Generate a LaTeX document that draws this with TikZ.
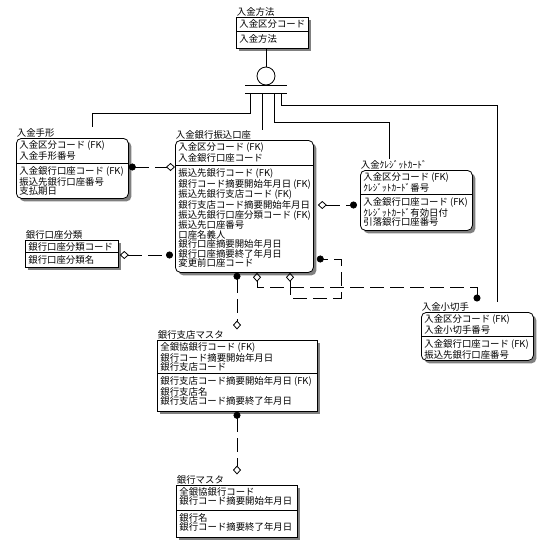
\documentclass[tikz,border=0pt]{standalone}
\usepackage{fontspec}
\setmainfont{Noto Sans CJK JP}
\usepackage{tikz}
\usetikzlibrary{positioning,calc,shadows,arrows.meta}
\tikzset{
	fkdot/.tip={Circle[length=7pt]},
	pkdia/.tip={Diamond[open,length=9pt,width=8pt]}
}

\begin{document}
\begin{tikzpicture}[
		x=1pt, y=-1pt, line width=0.8pt,
		ent/.style={draw, fill=white, inner sep=0pt, anchor=north west,
			drop shadow={shadow xshift=3pt, shadow yshift=-3pt, fill=black!50, opacity=1}},
		rent/.style={ent, rounded corners=5pt},
		lbl/.style={anchor=south west, inner sep=0.5pt, font=\fontsize{9.4}{9.5}\selectfont},
		txt/.style={anchor=north west, inner sep=0pt, align=left, font=\fontsize{9.4}{9.5}\selectfont},
		rel/.style={draw, dash pattern=on 14pt off 6pt},
		sub/.style={draw, line width=1pt}
		]
		
		\fill[white] (0,0) rectangle (550,550);
		\useasboundingbox (0,0) rectangle (550,550);
		
		% ===== 入金方法 =====
		\node[ent, minimum width=72, minimum height=31] (hoho) at (236,17) {};
		\node[lbl] (hohoL) at (hoho.north west) {入金方法};
		\draw (hoho.west |- 0,31) -- (hoho.east |- 0,31);
		\node[txt] (hohoK) at ($(hoho.north west)+(3,2)$) {入金区分コード};
		\node[txt] (hohoA) at ($(hoho.west |- 0,31)+(3,3)$) {入金方法};
		
		% ===== 入金手形 =====
		\node[rent, minimum width=112, minimum height=60] (tegata) at (16,138) {};
		\node[lbl] (tegataL) at (tegata.north west) {入金手形};
		\draw (tegata.west |- 0,163) -- (tegata.east |- 0,163);
		\node[txt] (tegataK) at ($(tegata.north west)+(3,2)$) {入金区分コード (FK)\\入金手形番号};
		\node[txt] (tegataA) at ($(tegata.west |- 0,163)+(3,3)$) {入金銀行口座コード (FK)\\振込先銀行口座番号\\支払期日};
		
		% ===== 入金銀行振込口座 =====
		\node[rent, minimum width=138, minimum height=132] (furi) at (175,140) {};
		\node[lbl] (furiL) at (furi.north west) {入金銀行振込口座};
		\draw (furi.west |- 0,165) -- (furi.east |- 0,165);
		\node[txt] (furiK) at ($(furi.north west)+(3,2)$) {入金区分コード (FK)\\入金銀行口座コード};
		\node[txt] (furiA) at ($(furi.west |- 0,165)+(3,3)$) {振込先銀行コード (FK)\\銀行コード摘要開始年月日 (FK)\\振込先銀行支店コード (FK)\\銀行支店コード摘要開始年月日\\振込先銀行口座分類コード (FK)\\振込先口座番号\\口座名義人\\銀行口座摘要開始年月日\\銀行口座摘要終了年月日\\変更前口座コード};
		
		% ===== 入金ｸﾚｼﾞｯﾄｶｰﾄﾞ =====
		\node[rent, minimum width=112, minimum height=60] (credit) at (360,170) {};
		\node[lbl] (creditL) at (credit.north west) {入金ｸﾚｼﾞｯﾄｶｰﾄﾞ};
		\draw (credit.west |- 0,194) -- (credit.east |- 0,194);
		\node[txt] (creditK) at ($(credit.north west)+(3,2)$) {入金区分コード (FK)\\ｸﾚｼﾞｯﾄｶｰﾄﾞ番号};
		\node[txt] (creditA) at ($(credit.west |- 0,194)+(3,3)$) {入金銀行口座コード (FK)\\ｸﾚｼﾞｯﾄｶｰﾄﾞ有効日付\\引落銀行口座番号};
		
		% ===== 銀行口座分類 =====
		\node[ent, minimum width=93, minimum height=27] (bunrui) at (25,240) {};
		\node[lbl] (bunruiL) at (bunrui.north west) {銀行口座分類};
		\draw (bunrui.west |- 0,252) -- (bunrui.east |- 0,252);
		\node[txt] (bunruiK) at ($(bunrui.north west)+(3,2)$) {銀行口座分類コード};
		\node[txt] (bunruiA) at ($(bunrui.west |- 0,252)+(3,3)$) {銀行口座分類名};
		
		% ===== 入金小切手 =====
		\node[rent, minimum width=112, minimum height=48] (kogitte) at (421,312) {};
		\node[lbl] (kogitteL) at (kogitte.north west) {入金小切手};
		\draw (kogitte.west |- 0,336) -- (kogitte.east |- 0,336);
		\node[txt] (kogitteK) at ($(kogitte.north west)+(3,2)$) {入金区分コード (FK)\\入金小切手番号};
		\node[txt] (kogitteA) at ($(kogitte.west |- 0,336)+(3,3)$) {入金銀行口座コード (FK)\\振込先銀行口座番号};
		
		% ===== 銀行支店マスタ =====
		\node[ent, minimum width=160, minimum height=71] (shiten) at (157,340) {};
		\node[lbl] (shitenL) at (shiten.north west) {銀行支店マスタ};
		\draw (shiten.west |- 0,373) -- (shiten.east |- 0,373);
		\node[txt] (shitenK) at ($(shiten.north west)+(3,2)$) {全銀協銀行コード (FK)\\銀行コード摘要開始年月日\\銀行支店コード};
		\node[txt] (shitenA) at ($(shiten.west |- 0,373)+(3,3)$) {銀行支店コード摘要開始年月日 (FK)\\銀行支店名\\銀行支店コード摘要終了年月日};
		
		% ===== 銀行マスタ =====
		\node[ent, minimum width=121, minimum height=52] (ginko) at (176,485) {};
		\node[lbl] (ginkoL) at (ginko.north west) {銀行マスタ};
		\draw (ginko.west |- 0,510) -- (ginko.east |- 0,510);
		\node[txt] (ginkoK) at ($(ginko.north west)+(3,2)$) {全銀協銀行コード\\銀行コード摘要開始年月日};
		\node[txt] (ginkoA) at ($(ginko.west |- 0,510)+(3,3)$) {銀行名\\銀行コード摘要終了年月日};
		
		% ===== サブタイプ =====
		\node[draw, circle, minimum size=18, inner sep=0pt] (cat) at (266,76) {};
		\coordinate (bar) at (266,93);
		\draw (cat.north) -- (cat.north |- hoho.south);
		\draw (cat.south -| 245,0) -- (cat.south -| 287,0);
		\draw (bar -| 245,0) -- (bar -| 287,0);
		\draw[sub] (bar -| 250,0) -- (250,113) -| (tegataL.north -| 92,0);
		\draw[sub] (bar -| 262,0) -- (furiL.north -| 262,0);
		\draw[sub] (bar -| 274,0) -- (274,122) -| (creditL.north -| 389,0);
		\draw[sub] (bar -| 281,0) -- (281,105) -| (kogitteL.north -| 497,0);
		
		% ===== リレーションシップ =====
		\draw[rel, fkdot-pkdia] (tegata.east |- 0,167) -- (furi.west |- 0,167);
		\draw[rel, pkdia-fkdot] ($(furi.east |- 0,205)+(4,0)$) -- ($(credit.west |- 0,205)+(-3,0)$);
		\draw[rel, pkdia-fkdot] ($(bunrui.east |- 0,255)+(1,0)$) -- ($(furi.west |- 0,255)+(-2,0)$);
		\draw[rel, fkdot-pkdia] (furi.south -| 237,0) -- (shitenL.north -| 237,0);
		\draw[rel, fkdot-pkdia] (shiten.south -| 237,0) -- (ginkoL.north -| 237,0);
		\draw[rel, pkdia-fkdot] (furi.south -| 257,0) -- ++(0,15) -| (kogitteL.north -| 477,0);
		\coordinate (self) at (341,298);
		\draw[rel, pkdia-fkdot] (furi.south -| 290,0) |- (self) |- ($(furi.east |- 0,259)+(3,0)$);
		
	\end{tikzpicture}
\end{document}
